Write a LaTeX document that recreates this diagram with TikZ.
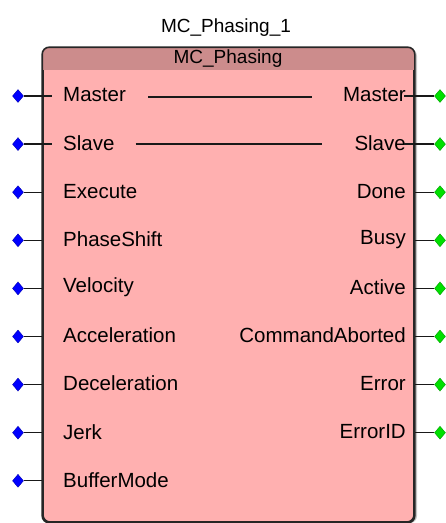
\documentclass[tikz,border=0pt]{standalone}
\usepackage{fontspec}
\setmainfont{Liberation Sans}
\usetikzlibrary{positioning,shapes.geometric,shadows}
\definecolor{BlockPink}{RGB}{255,176,176}
\definecolor{HeaderPink}{RGB}{204,140,140}
\definecolor{InBlue}{RGB}{0,0,255}
\definecolor{OutGreen}{RGB}{0,224,0}

\begin{document}
\begin{tikzpicture}[x=1pt,y=-1pt]
  \tikzset{fbox/.style={draw=black!85, line width=1.6pt, fill=BlockPink, rounded corners=7pt,
      minimum width=371pt, minimum height=474pt, inner sep=0pt,
      drop shadow={shadow xshift=3pt, shadow yshift=-1pt, fill=black!45}},
    inlbl/.style={anchor=west, inner sep=0pt, font=\fontsize{20.5}{24}\selectfont},
    outlbl/.style={anchor=east, inner sep=0pt, font=\fontsize{20.5}{24}\selectfont},
    inpin/.style={diamond, fill=InBlue, draw=InBlue!70!black, line width=0.4pt, inner sep=0pt, minimum width=11pt, minimum height=13pt},
    outpin/.style={diamond, fill=OutGreen, draw=OutGreen!70!black, line width=0.4pt, inner sep=0pt, minimum width=11pt, minimum height=13pt},
    wire/.style={line width=1.3pt, black!90}}
  \useasboundingbox (0,0) rectangle (446,523);

  \node[font=\fontsize{19}{22}\selectfont] (inst) at (226,28) {MC\_Phasing\_1};
  \node[fbox] (fb) at (228.5,285) {};
  \begin{scope}
    \clip[rounded corners=7pt] (fb.south west) rectangle (fb.north east);
    \fill[HeaderPink] (fb.north west) rectangle ([yshift=-23pt]fb.north east);
  \end{scope}
  \draw[black!85, line width=1.6pt, rounded corners=7pt] (fb.south west) rectangle (fb.north east);
  \node[font=\fontsize{19}{22}\selectfont, inner sep=0pt] (ftype) at (228,59) {MC\_Phasing};

  % inputs
  \foreach \nm [count=\i] in {Master,Slave,Execute,PhaseShift,Velocity,Acceleration,Deceleration,Jerk,BufferMode} {
    \node[inlbl] (in\i) at (63,{95+48.1*(\i-1)}) {\nm};
    \node[inpin] (ip\i) at (18,{96+48.1*(\i-1)}) {};
  }
  \foreach \i in {3,...,9} \draw[wire] (ip\i) -- (fb.west |- ip\i);
  \draw[wire] (ip1) -- ([xshift=10pt]fb.west |- ip1);
  \draw[wire] (ip2) -- ([xshift=10pt]fb.west |- ip2);

  % outputs
  \foreach \nm [count=\i] in {Master,Slave,Done,Busy,Active,CommandAborted,Error,ErrorID} {
    \node[outlbl] (out\i) at (406,{95+48.1*(\i-1)}) {\nm};
    \node[outpin] (op\i) at (440,{96+48.1*(\i-1)}) {};
  }
  \foreach \i in {3,...,8} \draw[wire] (op\i) -- (fb.east |- op\i);
  \draw[wire] (op1) -- ([xshift=-11pt]fb.east |- op1);
  \draw[wire] (op2) -- ([xshift=-11pt]fb.east |- op2);

  % pass-through
  \draw[wire] ([xshift=22pt, yshift=-2pt]in1.east) -- ([xshift=-31pt, yshift=-2pt]out1.west);
  \draw[wire] ([xshift=21pt, yshift=-1pt]in2.east) -- ([xshift=-32pt, yshift=-1pt]out2.west);
\end{tikzpicture}
\end{document}
